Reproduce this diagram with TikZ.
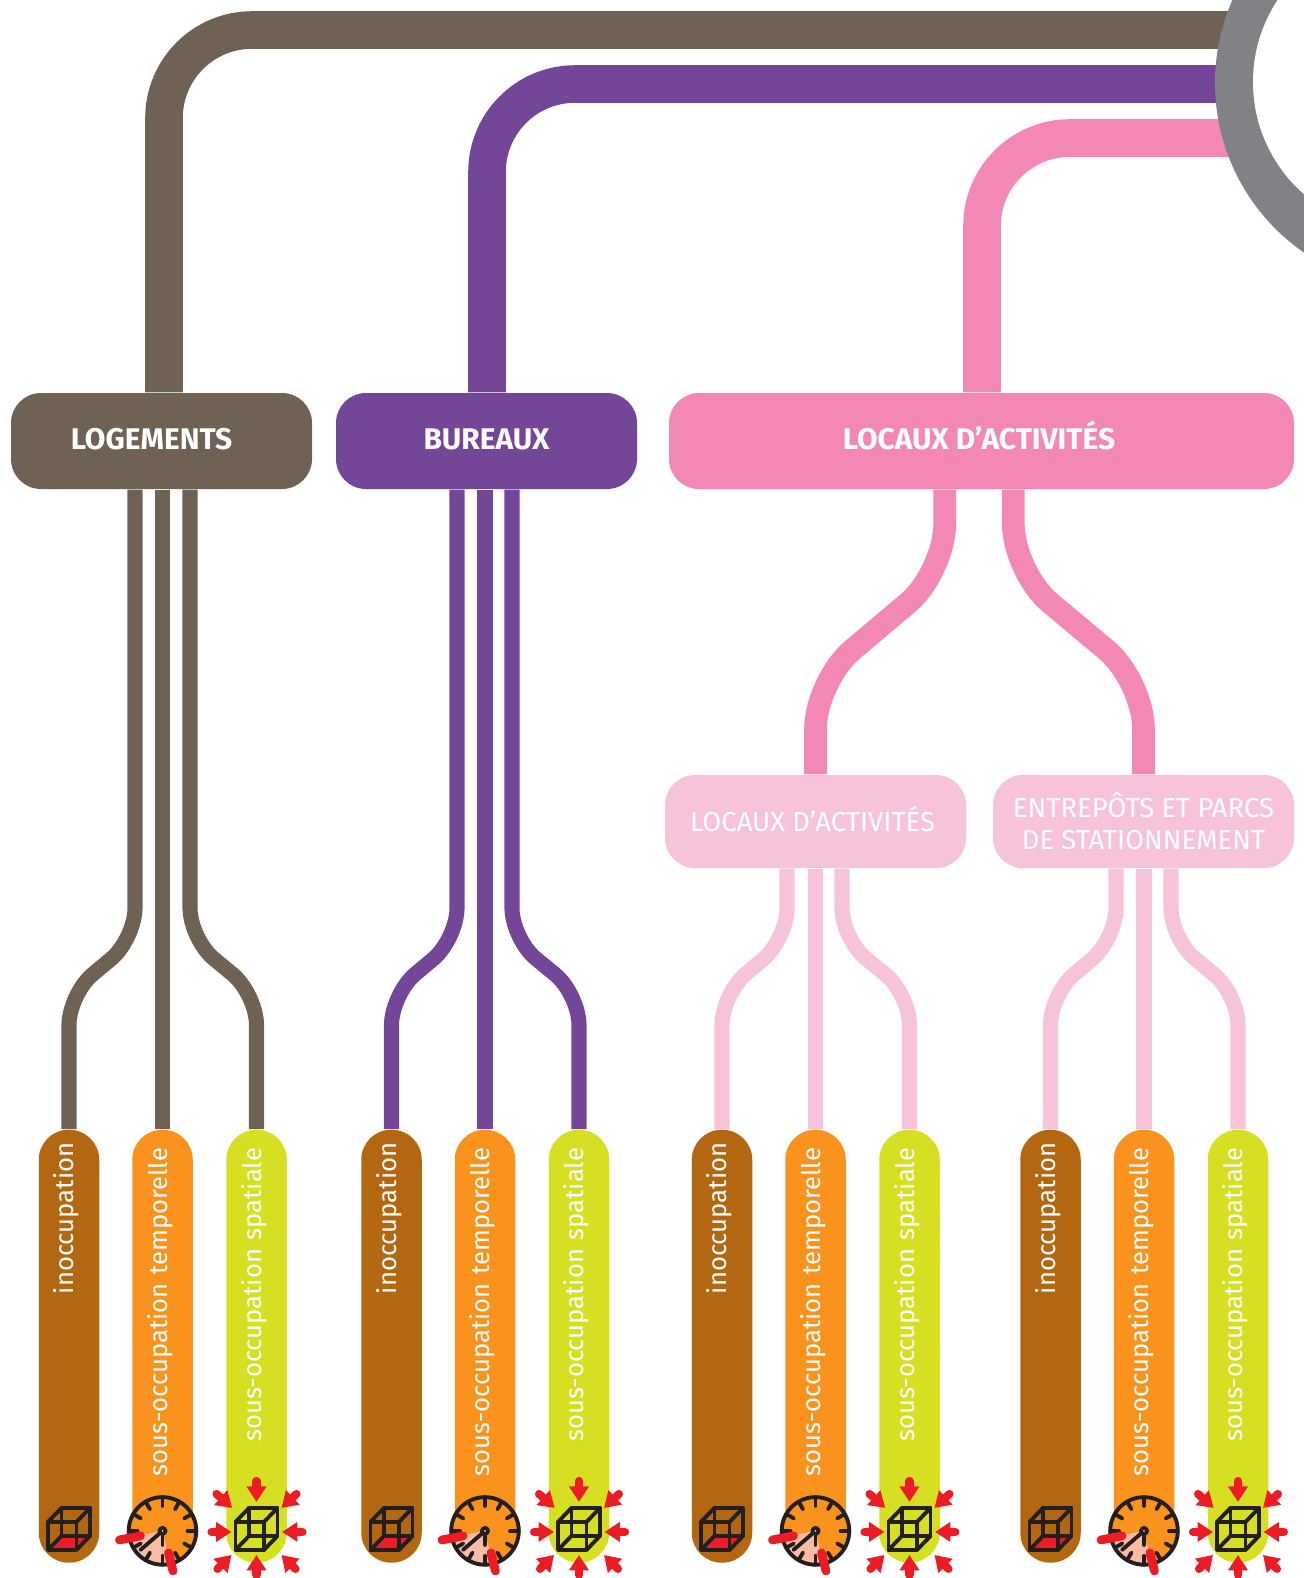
\documentclass[tikz,border=0pt]{standalone}
\usepackage{fontspec}
\setmainfont{Fira Sans}
\usepackage{tikz}
\usetikzlibrary{arrows.meta, calc}
\definecolor{lgcol}{HTML}{6F6254}
\definecolor{bucol}{HTML}{744698}
\definecolor{accol}{HTML}{F388B6}
\definecolor{palecol}{HTML}{F6C3DA}
\definecolor{hubcol}{HTML}{808285}
\definecolor{inoccol}{HTML}{B36711}
\definecolor{tempcol}{HTML}{F9931D}
\definecolor{spatcol}{HTML}{D7DF23}
\definecolor{alertcol}{HTML}{ED1C24}
\definecolor{inkcol}{HTML}{231F20}
\definecolor{peachcol}{HTML}{FBBCA6}
\tikzset{
  bigbox/.style={rectangle, rounded corners=0.3cm, minimum height=0.96cm, text=white,
    text height=2.1mm, text depth=0.5mm, font=\fontsize{8.5}{9}\selectfont\bfseries, inner sep=0pt},
  subbox/.style={rectangle, rounded corners=0.3cm, minimum height=0.93cm, minimum width=3.01cm,
    fill=palecol, text=white, align=center, inner sep=0pt, font=\fontsize{7.8}{9.1}\selectfont},
  pill/.style={rectangle, rounded corners=0.3cm, rotate=90, anchor=east, minimum width=4.33cm,
    minimum height=0.605cm, text width=3.97cm, align=right, inner sep=0pt, text=white,
    text height=1.6mm, text depth=0.7mm, font=\fontsize{7.3}{8}\selectfont},
  trunk/.style={line width=10.7pt, rounded corners=0.88cm},
  limb/.style={line width=6.45pt, rounded corners=0.48cm},
  twig/.style={line width=4.3pt, rounded corners=0.31cm},
  inkline/.style={inkcol, line width=1.1pt, line join=round, line cap=round},
  redbar/.style={alertcol, line width=2.5pt, line cap=round},
  redarrow/.style={alertcol, line width=2.3pt, line cap=round, -{Triangle[length=4.4pt, width=5.4pt]}},
  cubebox/.pic={
    \draw[inkline] (-0.21,0.07) rectangle (0.075,-0.21);
    \draw[inkline] (-0.075,0.21) rectangle (0.21,-0.07);
    \foreach \ax/\ay/\bx/\by in {-0.21/0.07/-0.075/0.21, 0.075/0.07/0.21/0.21, -0.21/-0.21/-0.075/-0.07, 0.075/-0.21/0.21/-0.07}
      \draw[inkline] (\ax,\ay) -- (\bx,\by);
  },
  clockface/.pic={
    \fill[tempcol] (0,0) circle (0.338);
    \fill[peachcol] (0,0) -- (191:0.32) arc (191:283:0.32) -- cycle;
    \foreach \a in {0,30,...,330}
      \draw[inkline] (\a:0.25) -- (\a:0.338);
    \draw[inkline] (0,0) circle (0.338);
    \draw[inkline] (0,0) -- (0,-0.14);
    \draw[inkline] (0,0) -- (-0.22,-0.19);
    \draw[inkline, fill=white] (0,0) circle (0.03);
    \draw[redbar] (-0.43,-0.09) -- (-0.22,-0.05);
    \draw[redbar] (0.06,-0.22) -- (0.105,-0.40);
  },
  squeeze/.pic={
    \foreach \ax/\ay/\bx/\by in {0/0.48/0/0.27, 0/-0.46/0/-0.26, -0.45/-0.03/-0.25/-0.03, 0.46/-0.03/0.255/-0.03,
        -0.40/0.35/-0.243/0.21, 0.40/0.35/0.25/0.21, -0.39/-0.40/-0.25/-0.26, 0.39/-0.40/0.25/-0.26}
      \draw[redarrow] (\ax,\ay) -- (\bx,\by);
  }
}
\begin{document}
\begin{tikzpicture}
  \useasboundingbox (0,0) rectangle (13.04,-15.78);
  \clip (0,0) rectangle (13.04,-15.78);
  % category boxes
  \node[bigbox, fill=lgcol, minimum width=3.01cm] (lgbox) at (1.615,-4.41) {LOGEMENTS\kern2mm};
  \node[bigbox, fill=bucol, minimum width=3.01cm] (bubox) at (4.865,-4.41) {BUREAUX};
  \node[bigbox, fill=accol, minimum width=6.25cm] (acbox) at (9.815,-4.41) {LOCAUX D’ACTIVITÉS\kern0.5mm};
  \node[subbox, text height=2mm, text depth=0mm] (sabox) at (8.155,-8.215) {LOCAUX D’ACTIVITÉS\kern0.6mm};
  \node[subbox] (enbox) at (11.435,-8.215) {ENTREPÔTS ET PARCS\\DE STATIONNEMENT};
  % pills, three per group
  \foreach \g/\x in {lg/0, bu/3.225, sa/6.53, en/9.815}{
    \node[pill, fill=inoccol] (\g1) at (\x+0.69,-11.29) {inoccupation\kern-0.5mm};
    \node[pill, fill=tempcol] (\g2) at (\x+1.625,-11.29) {sous-occupation temporelle};
    \node[pill, fill=spatcol] (\g3) at (\x+2.565,-11.29) {sous-occupation spatiale};
    \fill[alertcol] ($(\g1.west)+(-0.21,0.135)$) -- ++(0.285,0) -- ++(0.135,0.14) -- ++(-0.285,0) -- cycle;
    \pic at ([yshift=0.345cm]\g1.west) {cubebox};
    \pic at ([yshift=0.325cm]\g2.west) {clockface};
    \pic at ([yshift=0.345cm]\g3.west) {cubebox};
    \pic at ([yshift=0.345cm]\g3.west) {squeeze};
  }
  % links down to the pills
  \foreach \bx/\col/\g/\xl/\xr in {lgbox/lgcol/lg/1.35/1.90, bubox/bucol/bu/4.57/5.12, sabox/palecol/sa/7.87/8.42, enbox/palecol/en/11.16/11.71}{
    \draw[twig, \col] (\xl,0 |- \bx.south) -- (\xl,-9.39) -- (\g1.east |- 0,-9.94) -- (\g1.east);
    \draw[twig, \col] (\g2.east |- \bx.south) -- (\g2.east);
    \draw[twig, \col] (\xr,0 |- \bx.south) -- (\xr,-9.39) -- (\g3.east |- 0,-9.94) -- (\g3.east);
  }
  % locaux split
  \draw[limb, accol] (9.447,0 |- acbox.south) -- (9.447,-5.72) -- (sabox.north |- 0,-6.81) -- (sabox.north);
  \draw[limb, accol] (10.133,0 |- acbox.south) -- (10.133,-5.72) -- (enbox.north |- 0,-6.81) -- (enbox.north);
  % trunks into the hub
  \coordinate (hublg) at (12.4,-0.30);
  \coordinate (hubbu) at (12.4,-0.84);
  \coordinate (hubac) at (12.4,-1.38);
  \draw[trunk, lgcol] ([xshift=0.025cm]lgbox.north) |- (hublg);
  \draw[trunk, bucol] ([xshift=0.005cm]bubox.north) |- (hubbu);
  \draw[trunk, accol] ([xshift=0.005cm]acbox.north) |- (hubac);
  % hub ring
  \fill[hubcol] (14.21,-0.83) circle (2.06);
  \fill[white] (14.02,-0.82) circle (1.49);
\end{tikzpicture}
\end{document}
